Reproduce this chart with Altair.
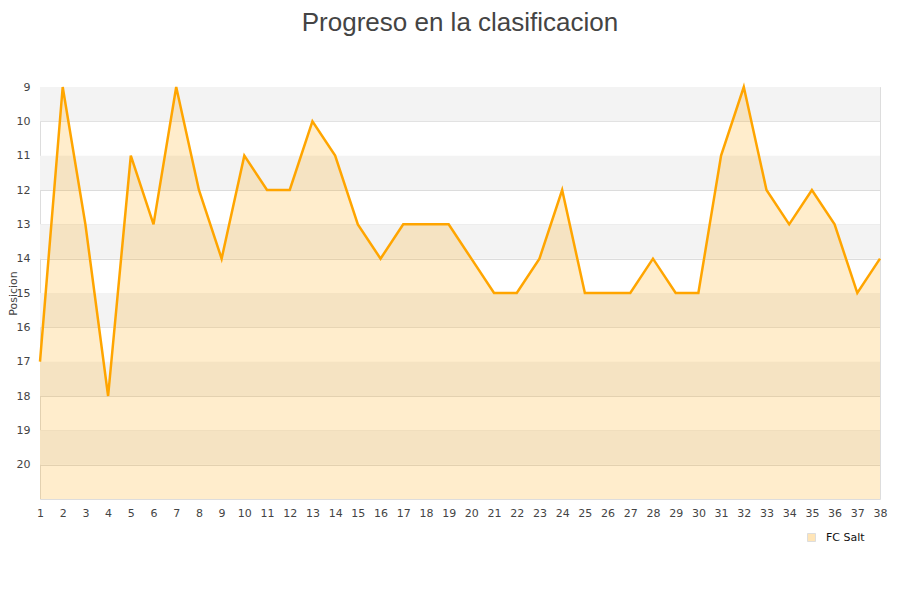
import altair as alt
import pandas as pd

jornadas = list(range(1, 39))
posiciones = [17, 9, 13, 18, 11, 13, 9, 12, 14, 11, 12, 12, 10, 11, 13, 14, 13, 13, 13, 14,
              15, 15, 14, 12, 15, 15, 15, 14, 15, 15, 11, 9, 12, 13, 12, 13, 15, 14]
equipo = "FC Salt"
band_starts = [9, 11, 13, 15, 17, 19]
y_ticks = list(range(9, 21))

df = pd.DataFrame({"jornada": jornadas, "pos": posiciones, "team": [equipo] * len(jornadas)})
bands = pd.DataFrame({"y1": band_starts, "y2": [b + 1 for b in band_starts]})

x_scale = alt.Scale(domain=[1, 38], nice=False, zero=False)
y_scale = alt.Scale(domain=[9, 21], reverse=True, nice=False, zero=False)

y_axis = alt.Axis(values=y_ticks, title="Posicion", grid=True, gridColor="#dcdcdc",
                  domain=False, ticks=False, labelColor="#444", labelFontSize=11,
                  labelPadding=10, labelFont="DejaVu Sans", titleFont="DejaVu Sans",
                  titleFontSize=11, titleFontWeight="normal", titleColor="#444",
                  titlePadding=-2, format="d")
x_axis = alt.Axis(values=jornadas, title=None, grid=False, domain=False, ticks=False,
                  labelColor="#444", labelFontSize=11, labelPadding=8, labelFont="DejaVu Sans",
                  labelOverlap=False, labelBound=False, labelFlush=False, format="d")

band_layer = alt.Chart(bands).mark_rect(color="#f3f3f3").encode(
    y=alt.Y("y1:Q", scale=y_scale, axis=y_axis),
    y2="y2:Q",
)

base = alt.Chart(df)

area = base.mark_area(opacity=0.2).encode(
    x=alt.X("jornada:Q", scale=x_scale, axis=x_axis),
    y=alt.Y("pos:Q", scale=y_scale, axis=y_axis),
    y2=alt.datum(21),
    color=alt.Color("team:N", scale=alt.Scale(range=["#ffa500"]),
                    legend=alt.Legend(orient="none", legendX=766, legendY=445, title=None,
                                      symbolType="square", symbolSize=64,
                                      symbolStrokeColor="#888", symbolStrokeWidth=1,
                                      symbolOpacity=0.28, labelOffset=9,
                                      labelFont="DejaVu Sans", labelFontSize=11,
                                      labelColor="#111", padding=0)),
)

line = base.mark_line(color="#ffa500", strokeWidth=2.5).encode(
    x=alt.X("jornada:Q", scale=x_scale, axis=x_axis),
    y=alt.Y("pos:Q", scale=y_scale, axis=y_axis),
)

chart = alt.layer(band_layer, area, line).properties(
    width=840,
    height=412,
    title=alt.Title("Progreso en la clasificacion", font="Liberation Sans", fontSize=26,
                    fontWeight="normal", color="#444", anchor="middle", offset=45),
    autosize=alt.AutoSizeParams(type="none"),
    padding={"left": 32, "top": 79, "right": 12, "bottom": 85},
).configure_view(stroke="#d8d8d8", strokeWidth=1).configure(background="white")

chart.save("out.html", embed_options={"renderer": "svg", "actions": False})
